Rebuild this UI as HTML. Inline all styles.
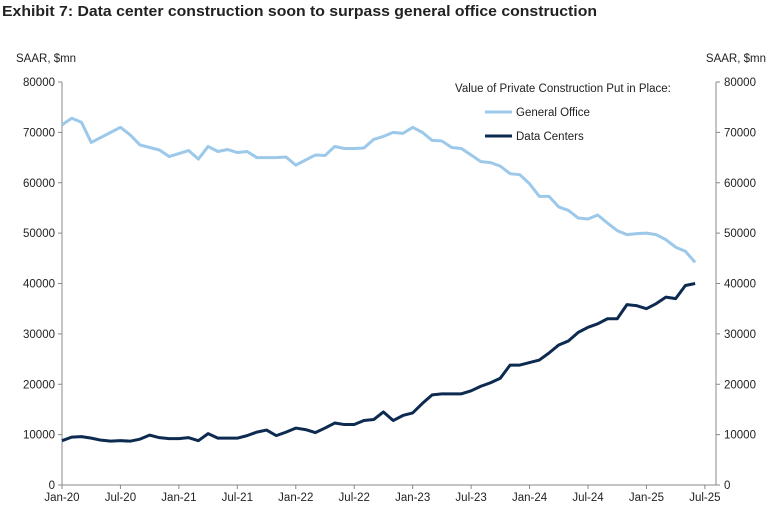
<!DOCTYPE html>
<html><head><meta charset="utf-8"><style>
body{margin:0;background:#fff;font-family:"Liberation Sans",sans-serif;}
svg text{font-family:"Liberation Sans",sans-serif;}
</style></head><body>
<svg width="775" height="513" xmlns="http://www.w3.org/2000/svg">
<text x="2" y="16" font-size="15" font-weight="bold" fill="#222" textLength="595" lengthAdjust="spacingAndGlyphs">Exhibit 7: Data center construction soon to surpass general office construction</text>
<text x="16" y="62" font-size="11.5" fill="#222">SAAR, $mn</text>
<text x="766" y="62" font-size="11.5" fill="#222" text-anchor="end">SAAR, $mn</text>
<g id="axes"></g>
<g id="series"></g>
<g>
<text x="455" y="92" font-size="11.5" fill="#222">Value of Private Construction Put in Place:</text>
<line x1="485" y1="112" x2="512" y2="112" stroke="#9cc8ea" stroke-width="3"/>
<text x="516" y="116" font-size="11.5" fill="#222">General Office</text>
<line x1="485" y1="136" x2="512" y2="136" stroke="#0d2a50" stroke-width="3"/>
<text x="516" y="140" font-size="11.5" fill="#222">Data Centers</text>
</g>
</svg>
<script>
const yTicks=[0,10000,20000,30000,40000,50000,60000,70000,80000];
const xLabels=["Jan-20","Jul-20","Jan-21","Jul-21","Jan-22","Jul-22","Jan-23","Jul-23","Jan-24","Jul-24","Jan-25","Jul-25"];
const officeValues=[71500,72800,72000,68000,69000,70000,71000,69500,67500,67000,66500,65200,65800,66400,64700,67200,66200,66600,66000,66200,65000,65000,65000,65100,63500,64500,65500,65400,67200,66800,66800,66900,68600,69200,70000,69800,71000,70000,68400,68300,67000,66800,65500,64200,64000,63300,61800,61600,59800,57300,57300,55200,54500,53000,52800,53600,52000,50500,49700,49900,50000,49700,48700,47200,46400,44200];
const dcValues=[8800,9500,9600,9300,8900,8700,8800,8700,9100,9900,9400,9200,9200,9400,8800,10200,9300,9300,9300,9800,10500,10900,9800,10500,11300,11000,10400,11300,12300,12000,12000,12800,13000,14500,12800,13800,14300,16200,17900,18100,18100,18100,18700,19600,20300,21200,23800,23800,24300,24800,26200,27800,28600,30300,31300,32000,33000,33000,35800,35600,35000,36000,37300,37000,39600,40000];
const NS="http://www.w3.org/2000/svg";
const X0=62,X1=700,Y0=485,Y1=82;
const xm=m=>X0+m*(X1-X0)/65.5;
const yv=v=>Y0-(v/80000)*(Y0-Y1);
function mk(t,a,p){const e=document.createElementNS(NS,t);for(const k in a)e.setAttribute(k,a[k]);p.appendChild(e);return e;}
const axes=document.getElementById('axes');
const la=mk('line',{x1:X0,y1:Y1,x2:X0,y2:Y0,stroke:'#888'},axes);


const ra=mk('line',{x1:716,y1:Y1,x2:716,y2:Y0,stroke:'#888'},axes);


const xa=mk('line',{x1:X0,y1:Y0,x2:716,y2:Y0,stroke:'#888'},axes);


yTicks.forEach(v=>{
 const y=yv(v);
 mk('line',{x1:X0-4,y1:y,x2:X0,y2:y,stroke:'#888'},axes);
 mk('line',{x1:716,y1:y,x2:720,y2:y,stroke:'#888'},axes);
 const t=mk('text',{x:X0-7,y:y+4,'font-size':11.5,'text-anchor':'end',fill:'#222'},axes);t.textContent=v;
 
 
 const t2=mk('text',{x:724,y:y+4,'font-size':11.5,fill:'#222'},axes);t2.textContent=v;
 
 
});
xLabels.forEach((l,i)=>{
 const x=xm(i*6);
 mk('line',{x1:x,y1:Y0,x2:x,y2:Y0+4,stroke:'#888'},axes);
 const t=mk('text',{x:x,y:Y0+16,'font-size':11.5,'text-anchor':'middle',fill:'#222'},axes);t.textContent=l;
 
 
});
const sg=document.getElementById('series');
function line(vals,col,name){
 const p=mk('polyline',{points:vals.map((v,i)=>xm(i)+','+yv(v)).join(' '),fill:'none',stroke:col,'stroke-width':3,'stroke-linejoin':'round'},sg);
 
 
}
line(officeValues,'#9cc8ea','general-office-line');
line(dcValues,'#0d2a50','data-centers-line');
</script>
</body></html>
